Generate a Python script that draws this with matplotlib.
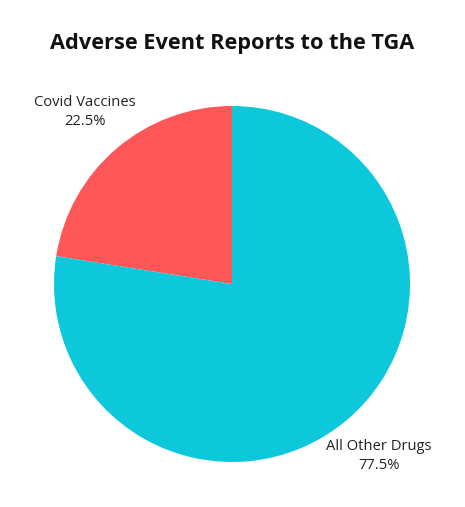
import matplotlib.pyplot as plt

categories = ['Covid Vaccines', 'All Other Drugs']
shares = [22.5, 77.5]
colors = ['#FF5757', '#0CC8DA']

W, H = 465, 507
fig = plt.figure(figsize=(W / 100, H / 100), dpi=100)
fig.patch.set_facecolor('white')

# pie centre ~ (232, 284) px, radius ~178 px
cx, cy, r = 232, 284, 178
ax = fig.add_axes([(cx - r) / W, (H - cy - r) / H, 2 * r / W, 2 * r / H])

labels = [f'{c}\n{v}%' for c, v in zip(categories, shares)]
wedges, texts = ax.pie(shares, colors=colors, startangle=90, counterclock=True,
                       labels=labels, labeldistance=1.27,
                       wedgeprops=dict(linewidth=0))
for t in texts:
    t.set_ha('center')
    t.set_va('center')
    t.set_multialignment('center')
    t.set_fontsize(10.6)
    t.set_fontfamily('Open Sans')
    t.set_color('#222222')
    t.set_linespacing(1.4)
    t.set_clip_on(False)
ax.set_xlim(-1, 1)
ax.set_ylim(-1, 1)
ax.set_aspect('equal')

fig.text(0.5, 1 - 43 / H, 'Adverse Event Reports to the TGA', ha='center', va='center',
         fontsize=15.7, fontweight='bold', fontfamily='Open Sans', color='#111111')

fig.savefig('out.png', dpi=100, facecolor='white')
